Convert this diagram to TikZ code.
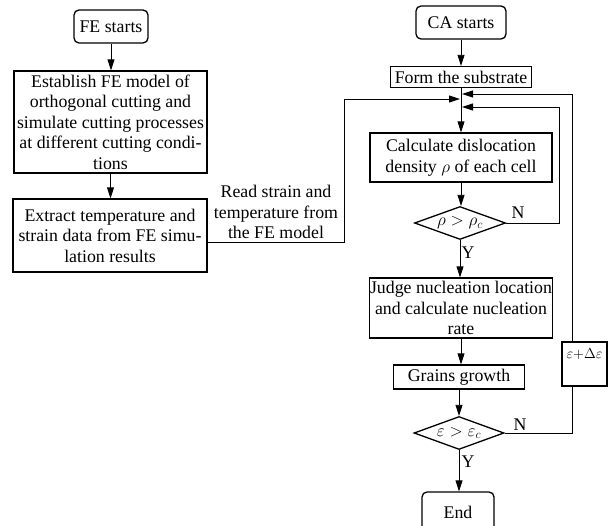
\documentclass[tikz,border=0pt]{standalone}
\usepackage{fontspec}
\setmainfont{Liberation Serif}
\usetikzlibrary{shapes.geometric,arrows.meta,calc}
\begin{document}
\begin{tikzpicture}[x=1pt,y=-1pt,
  font=\fontsize{17.8}{20.5}\selectfont,
  box/.style={draw, line width=1.3pt, inner xsep=0.5pt, inner ysep=0pt, align=center},
  rbox/.style={box, rounded corners=5pt},
  dec/.style={draw, line width=1.3pt, diamond, inner sep=0pt, aspect=2.76},
  conn/.style={line width=0.9pt},
  arr/.style={conn, -{Triangle[length=11pt,width=7pt]}},
  lbl/.style={inner sep=0pt, align=center}]
\useasboundingbox (0,0) rectangle (608,526);

% left column
\node[rbox, minimum width=74pt, minimum height=33pt] (festart) at (111,26.5) {FE starts};
\node[box, minimum width=193pt, minimum height=102pt] (establish) at (110.5,122)
  {Establish FE model of\\orthogonal cutting and\\simulate cutting processes\\at different cutting condi-\\tions};
\node[box, minimum width=194pt, minimum height=73pt] (extract) at (110,235.5)
  {Extract temperature and\\strain data from FE simu-\\lation results};
\node[lbl] (readtxt) at (276,212) {Read strain and\\temperature from\\the FE model};

% right column
\node[rbox, minimum width=90pt, minimum height=33pt] (castart) at (461,22.5) {CA starts};
\node[box, minimum width=141pt, minimum height=21pt] (form) at (461,77) {Form the substrate};
\coordinate (jL) at (460,99);
\coordinate (jR1) at (462,94);
\coordinate (jR2) at (462,107);
\node[box, minimum width=182pt, minimum height=49pt] (calc) at (461,157.5)
  {Calculate dislocation\\density $\rho$ of each cell};
\node[dec, minimum width=91pt, minimum height=33pt] (rho) at (460,223) {$\rho>\rho_c$};
\node[box, minimum width=183pt, minimum height=60pt] (judge) at (461,308)
  {Judge nucleation location\\and calculate nucleation\\rate};
\node[box, minimum width=131pt, minimum height=24pt] (grains) at (459,377) {Grains growth};
\node[dec, minimum width=90pt, minimum height=33pt] (epsd) at (459,433) {$\varepsilon>\varepsilon_c$};
\node[rbox, minimum width=72pt, minimum height=40pt] (endn) at (458,512) {End};
\node[box, minimum width=45pt, minimum height=44pt] (epsbox) at (584.5,364) {};
\node[lbl, font=\fontsize{15}{17}\selectfont] (epstxt) at (584.5,354) {$\varepsilon{+}\Delta\varepsilon$};

% labels
\node[lbl] (n1) at (518,213) {N};
\node[lbl] (y1) at (468,253) {Y};
\node[lbl] (n2) at (520,425) {N};
\node[lbl] (y2) at (468,462) {Y};

% connectors
\draw[arr] (festart.south) -- (festart.south |- establish.north);
\draw[arr] (establish.south) -- (establish.south |- extract.north);
\draw[arr] (extract.east) ++(0,6.5) -| (344,99) -- (jL);
\draw[arr] (castart.south) -- (castart.south |- form.north);
\draw[arr] (form.south) -- (form.south |- calc.north);
\draw[arr] (calc.south) -- (calc.south |- rho.north);
\draw[arr] (rho.east) -| (559,107) -- (jR2);
\draw[arr] (rho.south) -- (rho.south |- judge.north);
\draw[arr] (judge.south) -- (judge.south |- grains.north);
\draw[arr] (grains.south) -- (grains.south |- epsd.north);
\draw[conn] (epsd.east) -| ($(epsbox.south west)+(11,0)$);
\draw[arr] ($(epsbox.north west)+(11,0)$) |- (jR1);
\draw[arr] (epsd.south) -- (epsd.south |- endn.north);
\end{tikzpicture}
\end{document}
